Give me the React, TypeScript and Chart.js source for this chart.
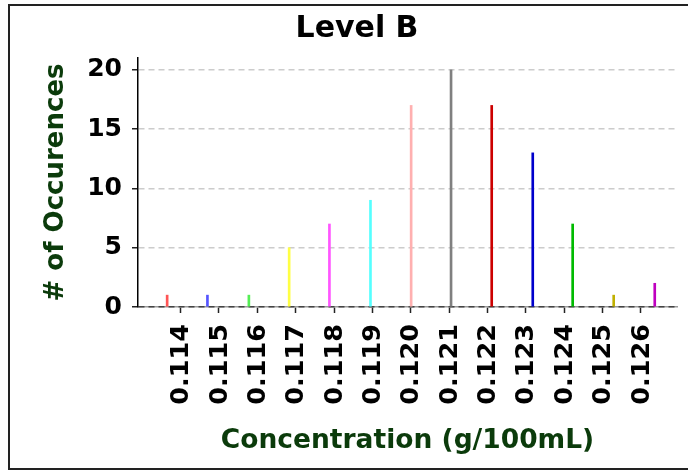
import React, { useEffect, useRef } from "react";
import { Chart, registerables } from "chart.js";

Chart.register(...registerables);

const concentrations = [0.11365, 0.1147, 0.11578, 0.11683, 0.11788, 0.11895, 0.12001, 0.12105, 0.12211, 0.12318, 0.12422, 0.12529, 0.12636];
const occurrences = [1, 1, 1, 5, 7, 9, 17, 20, 17, 13, 7, 1, 2];
const barColors = [
  "#ff5555", "#5555ff", "#55ee55", "#ffff44", "#ff55ff", "#55ffff", "#ffb0b0",
  "#808080", "#cc0000", "#0000cc", "#00bb00", "#c0b000", "#bf00bf",
];
const xTickValues = [0.114, 0.115, 0.116, 0.117, 0.118, 0.119, 0.12, 0.121, 0.122, 0.123, 0.124, 0.125, 0.126];
const yTickValues = [0, 5, 10, 15, 20];

const FAMILY = "'DejaVu Sans', sans-serif";
const GREEN = "#0b3b0b";

export default function App() {
  const ref = useRef<HTMLCanvasElement>(null);

  useEffect(() => {
    document.body.style.margin = "0";
    const chart = new Chart(ref.current as HTMLCanvasElement, {
      type: "bar",
      data: {
        datasets: [
          {
            data: concentrations.map((c, i) => ({ x: c, y: occurrences[i] })),
            backgroundColor: barColors,
            borderWidth: 0,
            barThickness: 2,
          },
        ],
      },
      options: {
        animation: false,
        responsive: false,
        maintainAspectRatio: false,
        layout: { padding: { left: 37, right: 11, top: 0, bottom: 0 } },
        plugins: {
          legend: { display: false },
          tooltip: { enabled: false },
          title: {
            display: true,
            text: "Level B",
            color: "#000",
            font: { family: FAMILY, size: 30, weight: "bold" },
            padding: { top: 11, bottom: 11 },
          },
        },
        scales: {
          x: {
            type: "linear",
            offset: false,
            min: 0.11289,
            max: 0.12694,
            afterBuildTicks: (s: any) => {
              s.ticks = xTickValues.map((v) => ({ value: v }));
            },
            afterFit: (s: any) => {
              s.height = 165;
            },
            ticks: {
              autoSkip: false,
              minRotation: 90,
              maxRotation: 90,
              padding: 11,
              labelOffset: 1,
              color: "#000",
              font: { family: FAMILY, size: 25.5, weight: "bold" },
              callback: (v: any) => Number(v).toFixed(3),
            },
            grid: {
              offset: false,
              drawOnChartArea: false,
              drawTicks: true,
              tickLength: 6,
              tickColor: "#222",
              tickWidth: 1.5,
              tickBorderDash: [],
            },
            border: { display: true, color: "#9a9a9a", width: 1.5, z: -1 },
            title: {
              display: true,
              text: "Concentration (g/100mL)",
              color: GREEN,
              font: { family: FAMILY, size: 26.5, weight: "bold" },
              padding: { top: 0, bottom: 15 },
            },
          },
          y: {
            type: "linear",
            min: 0,
            max: 21,
            afterBuildTicks: (s: any) => {
              s.ticks = yTickValues.map((v) => ({ value: v }));
            },
            afterFit: (s: any) => {
              s.width = 101;
            },
            ticks: {
              padding: 10,
              color: "#000",
              font: { family: FAMILY, size: 25, weight: "bold" },
            },
            grid: {
              color: (ctx: any) => (ctx.tick && ctx.tick.value === 0 ? "#444" : "#cccccc"),
              lineWidth: 1.5,
              drawTicks: true,
              tickLength: 6,
              tickColor: "#222",
              tickWidth: 1.5,
              tickBorderDash: [],
            },
            border: { display: true, color: "#000", width: 1.5, dash: [6, 4] },
            title: {
              display: true,
              text: "# of Occurences",
              color: GREEN,
              font: { family: FAMILY, size: 26, weight: "bold" },
              padding: { top: 4, bottom: 0 },
            },
          },
        },
      } as any,
    });
    return () => chart.destroy();
  }, []);

  return (
    <div style={{ position: "relative", width: 688, height: 472, overflow: "hidden", background: "#fff" }}>
      <canvas ref={ref} width={688} height={472} style={{ display: "block", width: 688, height: 472 }} />
      <div
        style={{
          position: "absolute",
          left: 8,
          top: 4,
          width: 700,
          height: 462,
          border: "2px solid #222",
          pointerEvents: "none",
        }}
      />
    </div>
  );
}
